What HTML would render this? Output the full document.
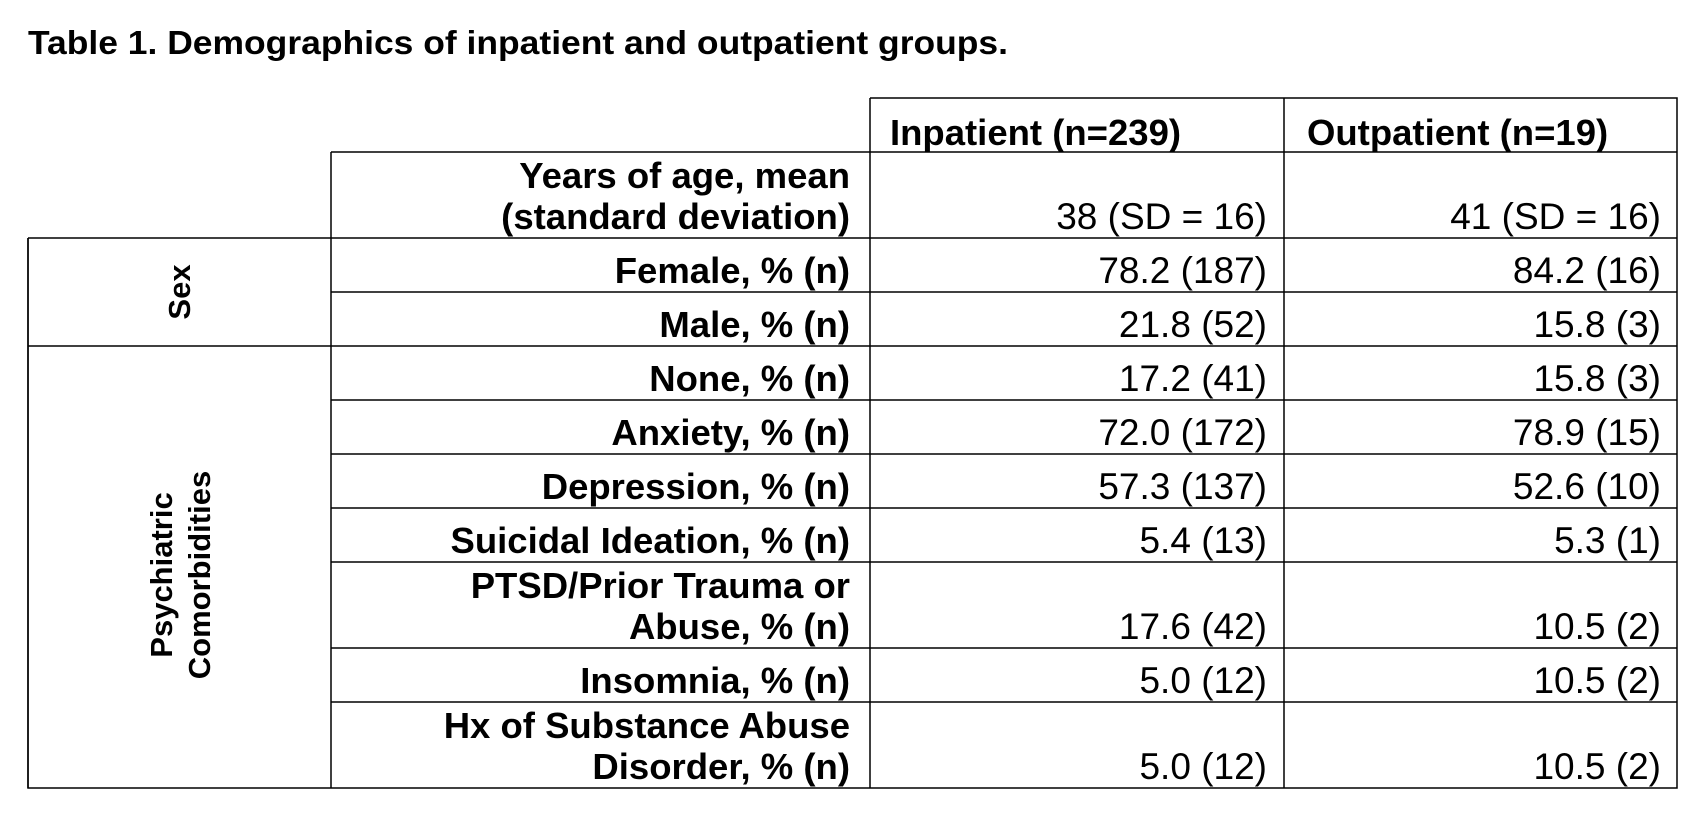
<!DOCTYPE html>
<html><head><style>
html,body{margin:0;padding:0;background:#fff;}
svg{display:block;}
text{font-family:"Liberation Sans",Arial,sans-serif;fill:#000;}
.b{font-weight:bold;font-size:36.5px;}
.n{font-size:37px;}
</style></head><body>
<svg width="1700" height="815" viewBox="0 0 1700 815" xmlns="http://www.w3.org/2000/svg">
<text x="28" y="54" style="font-family:'Liberation Sans',sans-serif;font-weight:bold;font-size:33px" textLength="980" lengthAdjust="spacingAndGlyphs">Table 1. Demographics of inpatient and outpatient groups.</text>
<g stroke="#000" stroke-width="1.5" fill="none">
<path d="M870 98H1677V788H28V238"/>
<path d="M331 152H1677M28 238H1677M331 292H1677M28 346H1677M331 400H1677M331 454H1677M331 508H1677M331 562H1677M331 648H1677M331 702H1677"/>
<path d="M870 98V788M1284 98V788M331 152V788M28 238V788"/>
</g>
<g class="b">
<text x="890" y="145">Inpatient (n=239)</text>
<text x="1307" y="145">Outpatient (n=19)</text>
</g>
<g class="b" text-anchor="end">
<text x="850" y="188">Years of age, mean</text>
<text x="850" y="229">(standard deviation)</text>
<text x="850" y="283">Female, % (n)</text>
<text x="850" y="337">Male, % (n)</text>
<text x="850" y="391">None, % (n)</text>
<text x="850" y="445">Anxiety, % (n)</text>
<text x="850" y="499">Depression, % (n)</text>
<text x="850" y="553">Suicidal Ideation, % (n)</text>
<text x="850" y="598">PTSD/Prior Trauma or</text>
<text x="850" y="639">Abuse, % (n)</text>
<text x="850" y="693">Insomnia, % (n)</text>
<text x="850" y="738">Hx of Substance Abuse</text>
<text x="850" y="779">Disorder, % (n)</text>
</g>
<g class="n" text-anchor="end">
<text x="1267" y="229">38 (SD = 16)</text><text x="1661" y="229">41 (SD = 16)</text>
<text x="1267" y="283">78.2 (187)</text><text x="1661" y="283">84.2 (16)</text>
<text x="1267" y="337">21.8 (52)</text><text x="1661" y="337">15.8 (3)</text>
<text x="1267" y="391">17.2 (41)</text><text x="1661" y="391">15.8 (3)</text>
<text x="1267" y="445">72.0 (172)</text><text x="1661" y="445">78.9 (15)</text>
<text x="1267" y="499">57.3 (137)</text><text x="1661" y="499">52.6 (10)</text>
<text x="1267" y="553">5.4 (13)</text><text x="1661" y="553">5.3 (1)</text>
<text x="1267" y="639">17.6 (42)</text><text x="1661" y="639">10.5 (2)</text>
<text x="1267" y="693">5.0 (12)</text><text x="1661" y="693">10.5 (2)</text>
<text x="1267" y="779">5.0 (12)</text><text x="1661" y="779">10.5 (2)</text>
</g>
<g style="font-weight:bold;font-size:31px" text-anchor="middle">
<text transform="translate(190,292) rotate(-90)">Sex</text>
<text transform="translate(172,575) rotate(-90)">Psychiatric</text>
<text transform="translate(210,575) rotate(-90)">Comorbidities</text>
</g>
</svg>
</body></html>
